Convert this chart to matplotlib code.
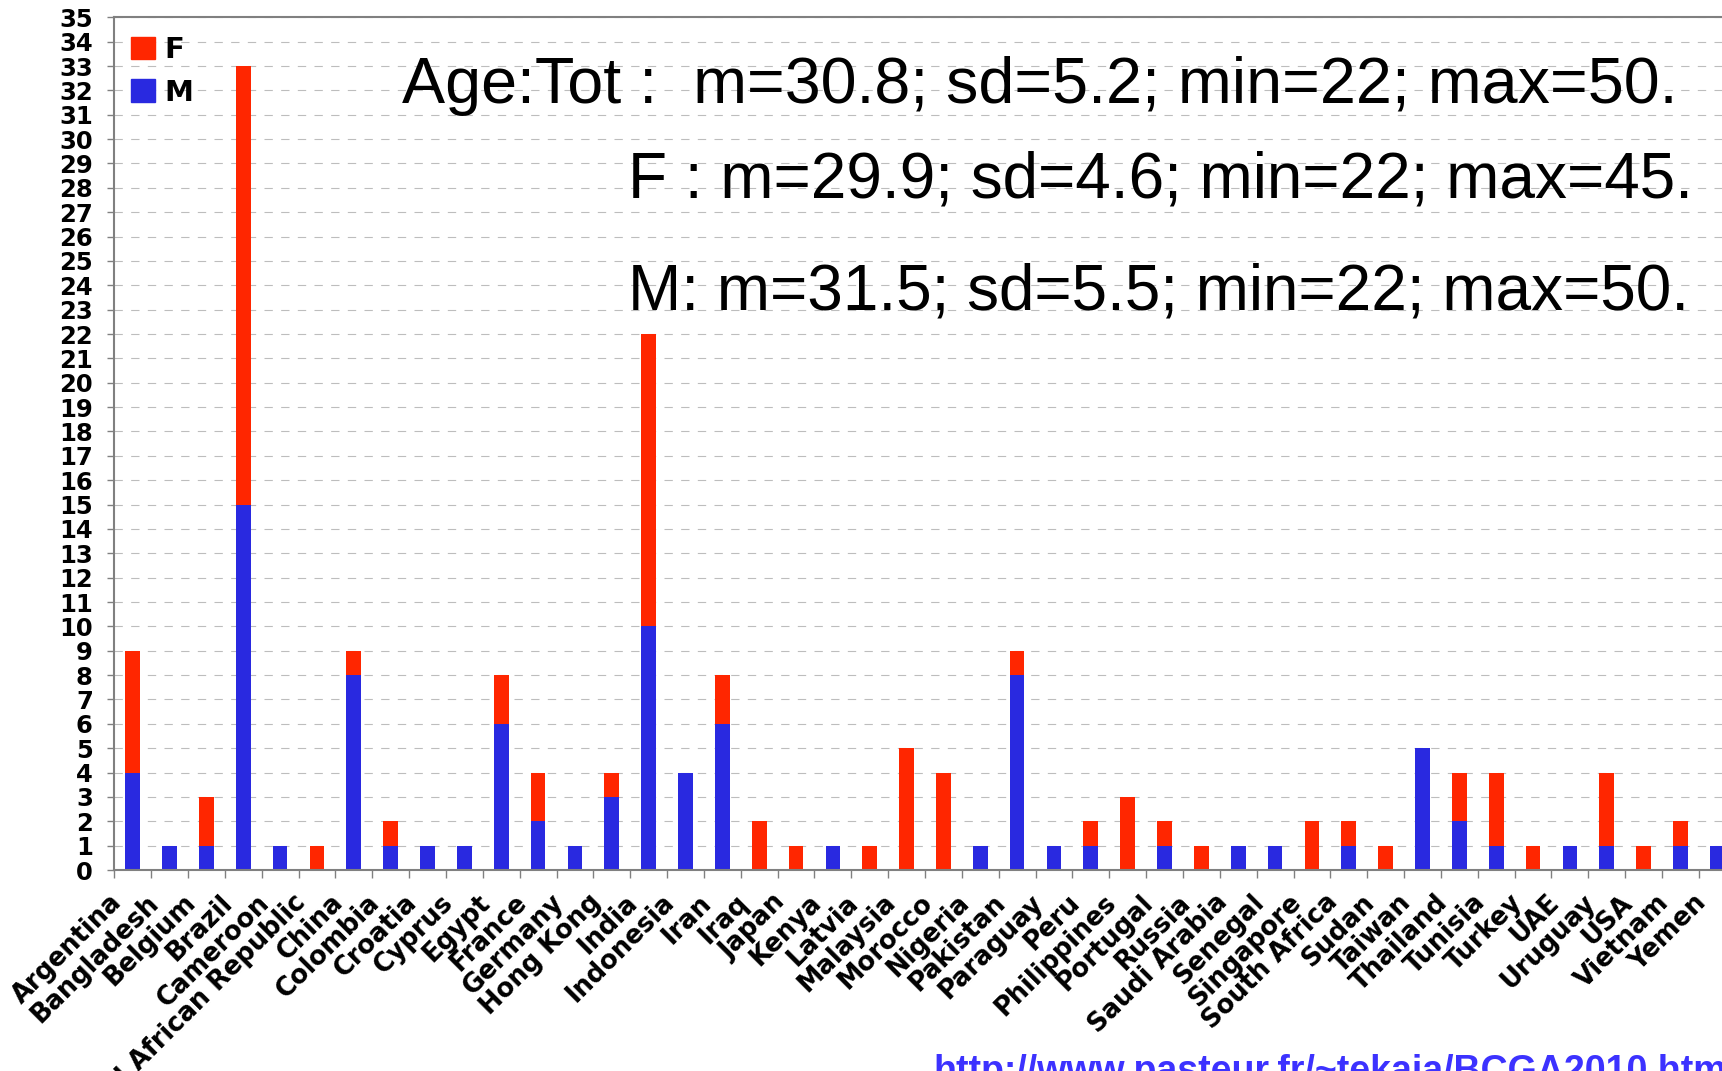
import matplotlib
matplotlib.use("Agg")
import matplotlib.pyplot as plt
import matplotlib.transforms as mtransforms
from matplotlib.patches import Patch
import numpy as np

countries = [
    "Argentina", "Bangladesh", "Belgium", "Brazil", "Cameroon",
    "Central African Republic", "China", "Colombia", "Croatia", "Cyprus",
    "Egypt", "France", "Germany", "Hong Kong", "India", "Indonesia", "Iran",
    "Iraq", "Japan", "Kenya", "Latvia", "Malaysia", "Morocco", "Nigeria",
    "Pakistan", "Paraguay", "Peru", "Philippines", "Portugal", "Russia",
    "Saudi Arabia", "Senegal", "Singapore", "South Africa", "Sudan", "Taiwan",
    "Thailand", "Tunisia", "Turkey", "UAE", "Uruguay", "USA", "Vietnam", "Yemen",
]
males = [4, 1, 1, 15, 1, 0, 8, 1, 1, 1, 6, 2, 1, 3, 10, 4, 6, 0, 0, 1, 0, 0,
         0, 1, 8, 1, 1, 0, 1, 0, 1, 1, 0, 1, 0, 5, 2, 1, 0, 1, 1, 0, 1, 1]
females = [5, 0, 2, 18, 0, 1, 1, 1, 0, 0, 2, 2, 0, 1, 12, 0, 2, 2, 1, 0, 1, 5,
           4, 0, 1, 0, 1, 3, 1, 1, 0, 0, 2, 1, 1, 0, 2, 3, 1, 0, 3, 1, 1, 0]

stats_lines = [
    "Age:Tot :  m=30.8; sd=5.2; min=22; max=50.",
    "F : m=29.9; sd=4.6; min=22; max=45.",
    "M: m=31.5; sd=5.5; min=22; max=50.",
]
url = "http://www.pasteur.fr/~tekaia/BCGA2010.html"

RED = "#ff2600"
BLUE = "#2929e0"
GRAY = "#808080"

W, H = 1722, 1071
fig = plt.figure(figsize=(W / 100, H / 100), dpi=100)
# axes runs slightly past the right edge, like the cropped original
ax = fig.add_axes([114.3 / W, 201 / H, 1621.4 / W, 852.7 / H])

x = np.arange(len(countries))
ax.bar(x, males, width=0.4, color=BLUE, zorder=2)
ax.bar(x, females, width=0.4, bottom=males, color=RED, zorder=2)

ax.set_xlim(-0.5, len(countries) - 0.5)
ax.set_ylim(0, 35)

# y axis
ax.set_yticks(range(0, 36))
ax.tick_params(axis="y", length=5, width=1, color=GRAY, pad=10.5,
               labelsize=17.5)
for lab in ax.get_yticklabels():
    lab.set_fontweight("bold")
ax.yaxis.grid(True, color="#bdbdbd", linestyle=(0, (7.5, 7.5)), linewidth=0.8)
ax.set_axisbelow(True)

# x axis: tick marks on boundaries, labels on centres
ax.set_xticks(np.arange(len(countries) + 1) - 0.5)
ax.set_xticklabels([])
ax.tick_params(axis="x", which="major", length=6, width=1, color=GRAY)
ax.set_xticks(x, minor=True)
ax.set_xticklabels(countries, minor=True, rotation=45, ha="right", va="top",
                   rotation_mode="anchor", fontsize=18.5, fontweight="bold")
ax.tick_params(axis="x", which="minor", length=0, pad=14)
offset = mtransforms.ScaledTranslation(-0.24, 0, fig.dpi_scale_trans)
for lab in ax.get_xticklabels(minor=True):
    lab.set_transform(lab.get_transform() + offset)

for side in ["left", "bottom", "top", "right"]:
    ax.spines[side].set_color(GRAY)
    ax.spines[side].set_linewidth(1.5)

# legend
handles = [Patch(color=RED, label="F"), Patch(color=BLUE, label="M")]
leg = ax.legend(handles=handles, loc="upper left",
                bbox_to_anchor=(0.0103, 0.978), frameon=False,
                prop={"weight": "bold", "size": 21},
                handlelength=0.83, handleheight=0.83, handletextpad=0.3,
                labelspacing=0.5, borderpad=0, borderaxespad=0)

# summary statistics
fig.text(402 / W, (H - 102.7) / H, stats_lines[0], ha="left", va="baseline",
         fontsize=46.5, family="Liberation Sans")
fig.text(628 / W, (H - 198) / H, stats_lines[1], ha="left", va="baseline",
         fontsize=46, family="Liberation Sans")
fig.text(628 / W, (H - 310) / H, stats_lines[2], ha="left", va="baseline",
         fontsize=46, family="Liberation Sans")

fig.text(933 / W, (H - 1082) / H, url, ha="left", va="baseline",
         fontsize=27, fontweight="bold", color="#3c32ff",
         family="Liberation Sans")

fig.savefig("out.png", dpi=100)
